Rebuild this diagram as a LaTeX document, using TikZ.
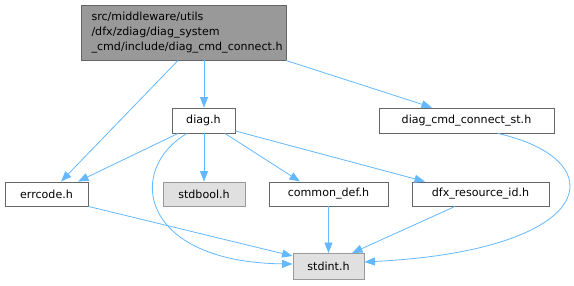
\documentclass[tikz,border=0pt]{standalone}
\usepackage{fontspec}
\setmainfont{DejaVu Sans}
\usetikzlibrary{arrows.meta}
\definecolor{edgec}{HTML}{63B8FF}
\definecolor{topfill}{HTML}{999999}
\definecolor{darkb}{HTML}{666666}
\definecolor{greyfill}{HTML}{E0E0E0}
\definecolor{greyb}{HTML}{999999}
\tikzset{
  filebox/.style={draw=darkb, fill=white, line width=0.9pt, rectangle, minimum height=25pt, inner sep=0pt, font=\fontsize{11.1}{15}\selectfont},
  sysbox/.style={filebox, draw=greyb, fill=greyfill},
  dep/.style={draw=edgec, line width=0.8pt, -{Triangle[length=10.5pt,width=8pt]}}
}
\begin{document}
\begin{tikzpicture}[x=1pt,y=-1pt]
\useasboundingbox (0,0) rectangle (574,285);
\node[filebox, fill=topfill, minimum width=205pt, minimum height=55pt, align=left, text width=184pt] (top) at (183.5,32.5)
  {src/middleware/utils\\/dfx/zdiag/diag\_system\\\_cmd/include/diag\_cmd\_connect.h};
\node[filebox, minimum width=63pt] (diag) at (203.5,120.5) {diag.h};
\node[filebox, minimum width=175pt] (st) at (466.5,120.5) {diag\_cmd\_connect\_st.h};
\node[filebox, minimum width=83pt, minimum height=24pt] (err) at (46.5,194) {errcode.h};
\node[sysbox, minimum width=82pt, minimum height=24pt] (bool) at (204,194) {stdbool.h};
\node[filebox, minimum width=119pt, minimum height=24pt] (cdef) at (328.5,194) {common\_def.h};
\node[filebox, minimum width=137pt, minimum height=24pt] (dfx) at (480.5,194) {dfx\_resource\_id.h};
\node[sysbox, minimum width=71pt, minimum height=26pt] (int) at (328.5,266.5) {stdint.h};

\draw[dep] (top.south -| 178,0) -- (err.north -| 61,0);
\draw[dep] (top.south -| 204,0) -- (diag.north -| 204,0);
\draw[dep] (top.south -| 286,0) -- (st.north -| 432,0);
\draw[dep] (diag.south -| 178,0) -- (err.north -| 78,0);
\draw[dep] (diag.south -| 204,0) -- (bool.north -| 204,0);
\draw[dep] (diag.south -| 225,0) -- (cdef.north -| 300,0);
\draw[dep] (diag.east |- 0,131) -- (dfx.north -| 425,0);
\draw[dep] (diag.south -| 187,0) .. controls (125,170) and (140,262) .. (int.west |- 0,264);
\draw[dep] (err.south east) -- (int.west |- 0,256);
\draw[dep] (cdef.south) -- (int.north);
\draw[dep] (dfx.south -| 455,0) -- (int.north -| 352,0);
\draw[dep] (st.south -| 498,0) .. controls (615,160) and (600,250) .. (int.east |- 0,262);
\end{tikzpicture}
\end{document}
